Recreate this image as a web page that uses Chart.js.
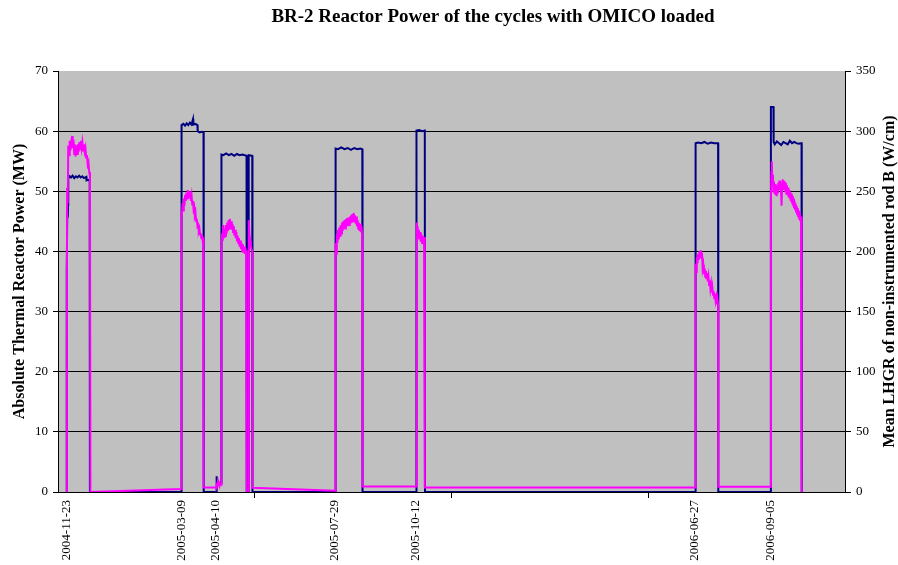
<!DOCTYPE html>
<html><head><meta charset="utf-8">
<script src="https://cdn.jsdelivr.net/npm/chart.js@4/dist/chart.umd.min.js"></script>
<style>html,body{margin:0;padding:0;background:#fff;}canvas{display:block;}</style>
</head><body>
<canvas id="c" width="898" height="565"></canvas>
<script>
const chartTitle = 'BR-2 Reactor Power of the cycles with OMICO loaded';
const leftAxisTitle = 'Absolute Thermal Reactor Power (MW)';
const rightAxisTitle = 'Mean LHGR of non-instrumented rod B (W/cm)';

// x values: days after 2004-11-23
const dateTickDays = [0, 106, 138, 248, 323, 581, 651];
const dateTickLabels = ['2004-11-23','2005-03-09','2005-04-10','2005-07-29','2005-10-12','2006-06-27','2006-09-05'];
const plainTickDays = [174, 356, 538];

// Absolute thermal reactor power (MW), left axis
const powerDays = [0,0.1,0.6,1.0,1.3,1.5,2.8,4,5.5,7,8.5,10,11.5,13,14.5,16,18.2,18.4,20,21.3,21.5,
 106.0,106.1,106.3,106.5,108,109.5,111,112.5,114,115.5,116.9,117.2,119,121.0,121.2,123,125,126.6,126.8,
 138.4,138.5,139.0,140.5,143.1,143.2,145,147.5,150,152.5,155,157.5,160,162.5,166.4,166.6,168.2,168.4,171.7,171.9,
 248.6,248.7,248.9,251,254,257,260,263,266,269,271.5,273.5,273.7,
 323.4,323.5,323.7,326,329,331.3,331.5,
 581.6,581.7,581.9,584,587,590,593,596,599,602.6,602.8,
 651.3,651.4,651.5,651.6,653.8,654.0,655,657,659,661,663,665,667,669,671,673,675,677,679.8,680.0];
const powerMW = [0,37,47,45.6,47.7,52.2,52.5,52.3,52.6,52.2,52.5,52.3,52.6,52.3,52.5,52.2,52.4,51.8,51.9,51.7,0,
 0,47,57,61.0,61.2,60.9,61.3,61.0,61.4,61.1,62.0,61.1,61.2,61.0,60.0,59.8,59.9,59.8,0,
 0,2.6,1.9,1.6,1.5,56.1,56.0,56.3,56.0,56.2,55.9,56.2,56.0,56.1,55.9,0,0,56.0,55.9,0,
 0,43,57.1,57.0,57.3,57.0,57.2,56.9,57.2,57.0,57.1,57.0,0,
 0,48,60.1,60.2,60.0,60.1,0,
 0,51.6,58.0,58.1,58.0,58.2,57.9,58.1,58.0,58.0,0,
 0,58,64.0,64.0,64.0,58.2,57.8,58.3,58.0,57.7,58.2,58.0,57.8,58.4,58.0,58.2,58.0,57.9,58.0,0];

// Mean LHGR of non-instrumented rod B (W/cm), right axis
const lhgrDays = [0,0.2,0.4,1.0,1.5,2.2,2.8,3.5,4.2,5.0,5.6,6.3,7.0,7.6,8.3,9.0,9.7,10.4,11.1,11.8,12.5,13.2,13.9,14.6,15.3,16.0,16.7,17.4,18.1,18.8,19.5,20.2,20.9,21.6,22.0,
 105.8,
 106.1,106.6,107.2,107.8,108.4,109,109.6,110.2,110.8,111.4,112,112.6,113.2,113.8,114.4,115,115.6,116.2,116.8,117.4,118,118.6,119.2,119.8,120.4,121,121.6,122.2,122.8,123.4,124,124.6,125.2,125.8,126.4,126.7,
 138.2,138.4,139,139.6,140.2,140.8,141.4,142,143.1,
 143.3,143.8,144.4,145,145.6,146.2,146.8,147.4,148,148.6,149.2,149.8,150.4,151,151.6,152.2,152.8,153.4,154,154.6,155.2,155.8,156.4,157,157.6,158.2,158.8,159.4,160,160.6,161.2,161.8,162.4,163,163.6,164.2,164.8,165.4,166.0,166.4,166.6,168.3,168.5,169.1,169.7,170.3,171,171.7,171.9,
 248.6,
 248.8,249.3,249.9,250.5,251.1,251.7,252.3,252.9,253.5,254.1,254.7,255.3,255.9,256.5,257.1,257.7,258.3,258.9,259.5,260.1,260.7,261.3,261.9,262.5,263.1,263.7,264.3,264.9,265.5,266.1,266.7,267.3,267.9,268.5,269.1,269.7,270.3,270.9,271.5,272.1,272.7,273.3,273.6,
 323.4,
 323.6,324,324.6,325.2,325.8,326.4,327,327.6,328.2,328.8,329.4,330,330.6,331.2,331.4,
 581.6,
 581.8,582.3,582.9,583.5,584.1,584.7,585.3,585.9,586.5,587.1,587.7,588.3,588.9,589.5,590.1,590.7,591.3,591.9,592.5,593.1,593.7,594.3,594.9,595.5,596.1,596.7,597.3,597.9,598.5,599.1,599.7,600.3,600.9,601.5,602.1,602.6,602.8,
 651.3,
 651.5,651.9,652.3,652.8,653.3,653.8,654.3,654.8,655.3,655.8,656.3,656.8,657.3,657.8,658.3,658.8,659.3,659.8,660.3,660.8,661.3,661.8,662.3,662.8,663.3,663.8,664.3,664.8,665.3,665.8,666.3,666.8,667.3,667.8,668.3,668.8,669.3,669.8,670.3,670.8,671.3,671.8,672.3,672.8,673.3,673.8,674.3,674.8,675.3,675.8,676.3,676.8,677.3,677.8,678.3,678.8,679.3,679.7,680.0];
const lhgrWcm = [0,120,253,240,288,280,292,284,290,296,286,293,281,289,279,288,281,289,283,291,285,292,286,291,284,289,283,286,278,280,272,274,266,262,0,
 2.5,
 233,226,240,234,244,238,247,242,249,244,251,245,250,244,249,242,246,239,242,235,237,230,232,225,227,221,222,217,219,214,215,211,213,209,210,3.7,
 3.7,7,5,8,5.5,7,5,7,6,
 203,215,209,222,212,219,213,222,215,224,217,226,219,227,220,225,218,223,216,221,213,218,211,216,209,213,207,211,204,209,202,207,200,206,199,204,198,203,197,201,0,0,226,214,209,206,202,200,3.5,
 1.0,
 207,198,214,207,218,210,220,213,222,215,224,217,225,219,226,219,227,221,228,221,228,222,229,223,230,224,231,225,232,225,230,223,229,221,226,219,224,217,223,216,221,215,4.5,
 4.5,
 224,214,221,211,218,210,216,208,214,207,213,206,212,206,3.7,
 3.7,
 190,183,195,190,198,193,200,195,201,196,199,186,189,181,186,179,184,177,182,175,179,172,176,169,173,166,170,164,167,161,165,159,162,156,160,155,4.4,
 4.4,
 243,266,275,256,264,250,258,248,256,247,255,246,254,248,257,251,259,252,258,250,238,254,260,252,259,252,258,250,257,248,255,247,253,245,251,244,249,242,248,240,246,238,244,236,242,235,240,233,238,231,236,229,234,227,232,225,229,224,0];

const FONT = 'Liberation Serif';
const allTickDays = [...dateTickDays, ...plainTickDays].sort((a,b)=>a-b);
const toXY = (xs, ys) => xs.map((x,i)=>({x:x, y:ys[i]}));

const bgPlugin = {
  id:'bg',
  beforeDraw(chart){
    const {ctx, chartArea:a} = chart;
    ctx.save(); ctx.fillStyle='#C0C0C0';
    ctx.fillRect(a.left, a.top, a.right-a.left, a.bottom-a.top);
    ctx.restore();
  }
};
const rightTitlePlugin = {
  id:'rightTitle',
  afterDraw(chart){
    const ctx = chart.ctx, a = chart.chartArea;
    ctx.save();
    ctx.translate(890, (a.top+a.bottom)/2);
    ctx.rotate(-Math.PI/2);
    ctx.font = 'bold 16px "' + FONT + '"';
    ctx.fillStyle = '#000'; ctx.textAlign='center'; ctx.textBaseline='middle';
    ctx.fillText(rightAxisTitle, 0, 0);
    ctx.restore();
  }
};
const titleShift = {
  id:'titleShift',
  afterLayout(chart){
    const tb = chart.titleBlock;
    if (tb) { tb.left = 140; tb.right = 846; }
  }
};

new Chart(document.getElementById('c'), {
  type:'line',
  data:{
    datasets:[
      { label:'LHGR', data:toXY(lhgrDays, lhgrWcm), yAxisID:'y2', borderColor:'#FF00FF', borderWidth:2, pointRadius:0, tension:0, fill:false },
      { label:'Power', data:toXY(powerDays, powerMW), yAxisID:'y', borderColor:'#000080', borderWidth:2, pointRadius:0, tension:0, fill:false }
    ]
  },
  options:{
    responsive:false, animation:false, devicePixelRatio:1,
    layout:{ padding:0 },
    plugins:{
      legend:{ display:false }, tooltip:{ enabled:false },
      title:{ display:true, text:chartTitle, color:'#000', font:{family:FONT, size:19, weight:'bold'}, padding:{top:6, bottom:42.2} }
    },
    scales:{
      x:{
        type:'linear', min:-8, max:720,
        afterBuildTicks(scale){ scale.ticks = allTickDays.map(v=>({value:v})); },
        ticks:{ autoSkip:false, maxRotation:90, minRotation:90, color:'#000', padding:2,
          font:{family:FONT, size:13},
          callback(v){ const i = dateTickDays.indexOf(v); return i>=0 ? dateTickLabels[i] : ''; } },
        grid:{ drawOnChartArea:false, tickLength:6,
          tickColor(ctx){ return (ctx.tick && dateTickDays.includes(ctx.tick.value)) ? 'rgba(0,0,0,0)' : '#000'; } },
        border:{ color:'#000', width:1 },
        afterFit(s){ s.height = 73; }
      },
      y:{
        position:'left', min:0, max:70,
        ticks:{ stepSize:10, color:'#000', padding:5, font:{family:FONT, size:13} },
        grid:{ color(ctx){ return (ctx.tick && (ctx.tick.value===0 || ctx.tick.value===70)) ? 'rgba(0,0,0,0)' : '#000'; }, tickColor:'#000', tickLength:5, lineWidth:1 },
        border:{ color:'#000', width:1 },
        title:{ display:true, text:leftAxisTitle, color:'#000', font:{family:FONT, size:16, weight:'bold'}, padding:{top:10.4, bottom:0} },
        afterFit(s){ s.width = 58; }
      },
      y2:{
        position:'right', min:0, max:350,
        ticks:{ stepSize:50, color:'#000', padding:5, font:{family:FONT, size:13} },
        grid:{ drawOnChartArea:false, tickColor:'#000', tickLength:6 },
        border:{ color:'#000', width:1 },
        afterFit(s){ s.width = 53; }
      }
    }
  },
  plugins:[bgPlugin, rightTitlePlugin, titleShift]
});
</script>
</body></html>
